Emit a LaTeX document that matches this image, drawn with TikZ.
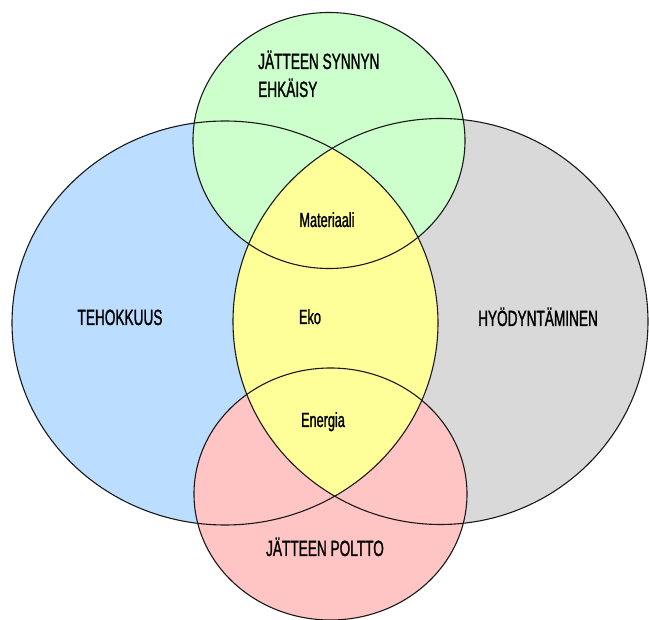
\documentclass[tikz,border=0pt]{standalone}
\usepackage{fontspec}
\newfontfamily\vennfont[FakeStretch=0.62, FakeBold=1.2]{Liberation Sans}
\definecolor{setblue}{HTML}{BBDDFF}
\definecolor{setgray}{HTML}{D9D9D9}
\definecolor{setgreen}{HTML}{CCFFCC}
\definecolor{setred}{HTML}{FFC4C4}
\definecolor{setyellow}{HTML}{FFFF99}

\begin{document}
\begin{tikzpicture}[x=1pt, y=-1pt]
	\tikzstyle{Outline} = [draw=black!90, line width=1.1pt]
	\tikzstyle{Title} = [font=\vennfont\fontsize{22}{28}\selectfont, inner sep=0pt, anchor=base]
	\tikzstyle{Small} = [font=\vennfont\fontsize{20.5}{24}\selectfont, inner sep=0pt, anchor=base]

	\useasboundingbox (0,0) rectangle (649,620);

	\coordinate (teho) at (225,323);
	\coordinate (hyoty) at (440.5,321.5);
	\coordinate (ehk) at (329,140.5);
	\coordinate (polt) at (330.5,494);

	% fills
	\fill[setblue] (teho) ellipse [x radius=213, y radius=202];
	\fill[setgray] (hyoty) ellipse [x radius=207.5, y radius=203];
	\fill[setgreen] (ehk) ellipse [x radius=136, y radius=128];
	\fill[setred] (polt) ellipse [x radius=136.5, y radius=126];
	\begin{scope}
		\clip (teho) ellipse [x radius=213, y radius=202];
		\fill[setyellow] (hyoty) ellipse [x radius=207.5, y radius=203];
	\end{scope}

	% outlines
	\draw[Outline] (teho) ellipse [x radius=213, y radius=202];
	\draw[Outline] (hyoty) ellipse [x radius=207.5, y radius=203];
	\draw[Outline] (ehk) ellipse [x radius=136, y radius=128];
	\draw[Outline] (polt) ellipse [x radius=136.5, y radius=126];

	\node[name=ehk1, Title, anchor=base west] at (258,69) {JÄTTEEN SYNNYN};
	\node[name=ehk2, Title, anchor=base west] at ([yshift=-28pt]ehk1.base west) {EHKÄISY};
	\node[name=tehoText, Title] at (120,325) {TEHOKKUUS};
	\node[name=hyotyText, Title] at (538,326) {HYÖDYNTÄMINEN};
	\node[name=poltText, Title] at (325,556) {JÄTTEEN POLTTO};

	\node[name=mat, Small] at (327,227) {Materiaali};
	\node[name=eko, Small] at (310,324) {Eko};
	\node[name=ene, Small] at (323,427) {Energia};
\end{tikzpicture}
\end{document}
